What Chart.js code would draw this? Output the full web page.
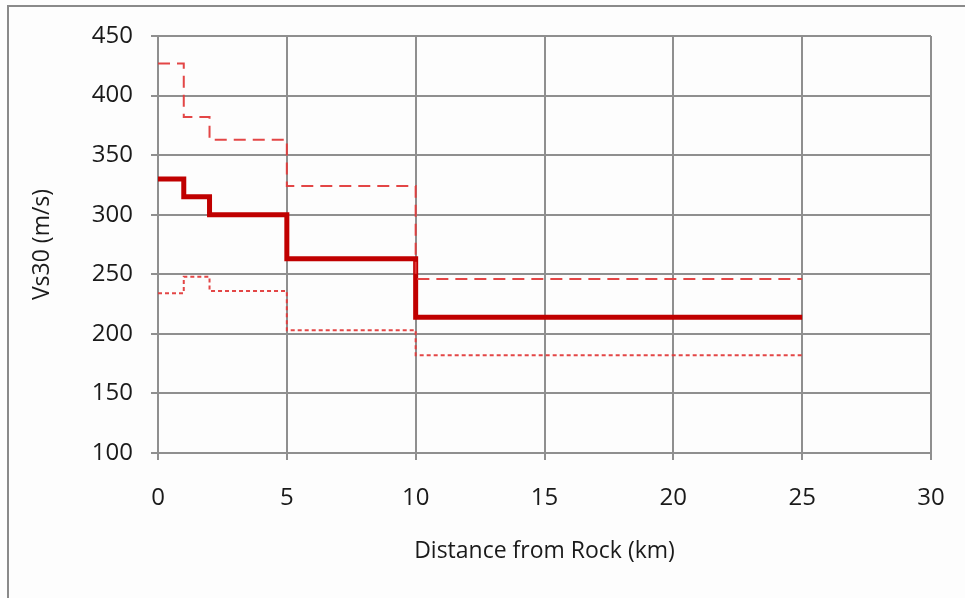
<!DOCTYPE html>
<html>
<head>
<meta charset="utf-8">
<script src="https://cdn.jsdelivr.net/npm/chart.js@4.4.1/dist/chart.umd.min.js"></script>
<style>
  body { margin: 0; background: #fdfdfd; }
  #wrap { position: relative; width: 965px; height: 598px; }
  #frame { position: absolute; left: 7px; top: 5px; width: 970px; height: 600px;
           border-left: 2px solid #8a8a8a; border-top: 2px solid #8a8a8a; }
  canvas { position: absolute; left: 0; top: 0; }
</style>
</head>
<body>
<div id="wrap">
  <canvas id="myChart" width="965" height="598"></canvas>
  <div id="frame"></div>
</div>
<script>
// step values: each value holds from its distance to the next one
var distanceKm = [0, 1, 2, 5, 10, 25];
var vs30Mean = [330, 315, 300, 263, 214, 214];
var vs30Upper = [427, 382, 363, 324, 246, 246];
var vs30Lower = [234, 248, 236, 203, 182, 182];
var xTicks = [0, 5, 10, 15, 20, 25, 30];
var yTicks = [100, 150, 200, 250, 300, 350, 400, 450];

function toPoints(values) {
    var pts = [];
    for (var i = 0; i < distanceKm.length; i++) {
        pts.push({ x: distanceKm[i], y: values[i] });
    }
    return pts;
}

var gridColor = '#8f8f8f';
var tickFont = { family: 'Open Sans', size: 24 };
var titleFont = { family: 'Open Sans', size: 23 };

var ctx = document.getElementById("myChart");
var myChart = new Chart(ctx, {
    type: 'line',
    data: {
        datasets: [{
            label: 'Upper',
            data: toPoints(vs30Upper),
            borderColor: 'rgba(226, 60, 60, 0.95)',
            borderWidth: 2,
            borderDash: [12, 7],
            stepped: true,
            pointRadius: 0,
            fill: false
        }, {
            label: 'Lower',
            data: toPoints(vs30Lower),
            borderColor: 'rgba(226, 60, 60, 0.95)',
            borderWidth: 2,
            borderDash: [4, 3],
            stepped: true,
            pointRadius: 0,
            fill: false
        }, {
            label: 'Mean',
            data: toPoints(vs30Mean),
            borderColor: '#c00000',
            borderWidth: 5,
            stepped: true,
            pointRadius: 0,
            fill: false
        }]
    },
    options: {
        responsive: false,
        animation: false,
        devicePixelRatio: 1,
        layout: { padding: { left: 20, top: 36, right: 34, bottom: 30 } },
        plugins: { legend: { display: false }, tooltip: { enabled: false } },
        scales: {
            x: {
                type: 'linear',
                min: 0,
                max: 30,
                afterBuildTicks: function (scale) {
                    scale.ticks = xTicks.map(function (v) { return { value: v }; });
                },
                afterFit: function (scale) {
                    scale.height = 598 - 30 - 453;
                    scale.paddingLeft = 0;
                    scale.paddingRight = 0;
                },
                ticks: { font: tickFont, color: '#1a1a1a', padding: 24, maxRotation: 0 },
                grid: { color: gridColor, lineWidth: 2, tickLength: 7, tickColor: gridColor },
                border: { color: gridColor, width: 2 },
                title: {
                    display: true,
                    text: 'Distance from Rock (km)',
                    font: titleFont,
                    color: '#1a1a1a',
                    padding: { top: 0, bottom: 3 }
                }
            },
            y: {
                min: 100,
                max: 450,
                afterBuildTicks: function (scale) {
                    scale.ticks = yTicks.map(function (v) { return { value: v }; });
                },
                afterFit: function (scale) {
                    scale.width = 158 - 20;
                    scale.paddingTop = 0;
                    scale.paddingBottom = 0;
                },
                ticks: { font: tickFont, color: '#1a1a1a', padding: 18 },
                grid: { color: gridColor, lineWidth: 2, tickLength: 7, tickColor: gridColor },
                border: { color: gridColor, width: 2 },
                title: {
                    display: true,
                    text: 'Vs30 (m/s)',
                    font: titleFont,
                    color: '#1a1a1a',
                    padding: { top: 9, bottom: 0 }
                }
            }
        }
    }
});
</script>
</body>
</html>
